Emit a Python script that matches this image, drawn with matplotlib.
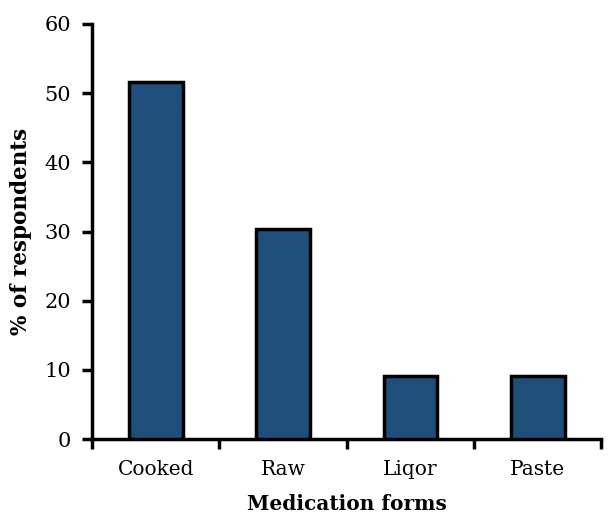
import matplotlib
matplotlib.use("Agg")
import matplotlib.pyplot as plt
import numpy as np

categories = ["Cooked", "Raw", "Liqor", "Paste"]
values = [51.6, 30.4, 9.1, 9.1]
yticks = [0, 10, 20, 30, 40, 50, 60]

plt.rcParams['font.family'] = ['DejaVu Serif']

fig = plt.figure(figsize=(6.1, 5.16), dpi=100)
ax = fig.add_axes([0.151, 0.149, 0.835, 0.8045])

x = np.arange(len(categories))
ax.bar(x, values, width=0.42, color="#1F4E79", edgecolor="black", linewidth=2.5, zorder=3)

ax.set_xlim(-0.5, len(categories) - 0.5)
ax.set_ylim(0, 60)
ax.set_yticks(yticks)
ax.set_yticklabels([str(t) for t in yticks], fontsize=15)

ax.set_xticks(x)
ax.set_xticklabels(categories, fontsize=14.5)
ax.tick_params(axis='x', which='major', length=0, pad=15)
ax.set_xticks(np.arange(len(categories) + 1) - 0.5, minor=True)
ax.tick_params(axis='x', which='minor', length=7, width=2.5, direction='out')
ax.tick_params(axis='y', which='major', length=7, width=2.5, direction='out', pad=8)

for s in ['top', 'right']:
    ax.spines[s].set_visible(False)
for s in ['left', 'bottom']:
    ax.spines[s].set_linewidth(2.5)

ax.set_xlabel("Medication forms", fontsize=14.5, fontweight='bold', labelpad=11)
ax.set_ylabel("% of respondents", fontsize=15.5, fontweight='bold', labelpad=9)

fig.savefig("out.png", dpi=100)
